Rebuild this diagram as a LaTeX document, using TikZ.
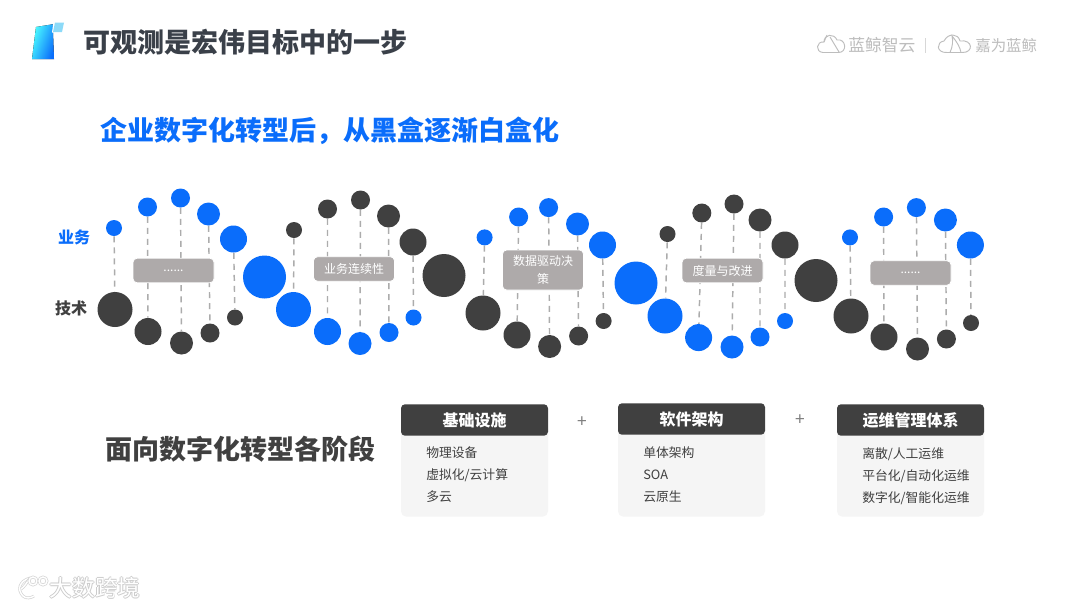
\documentclass[tikz,border=0pt]{standalone}
\usepackage{fontspec}
\setmainfont{Noto Sans CJK SC}
\usepackage{xcolor}
\usetikzlibrary{backgrounds}
\definecolor{bluedna}{HTML}{0A6DFB}
\definecolor{darkdna}{HTML}{404040}
\definecolor{titleink}{HTML}{3A4049}
\definecolor{boxgray}{HTML}{AEAAAA}
\definecolor{bodygray}{HTML}{F5F5F5}
\definecolor{logogray}{HTML}{BDBDBD}
\tikzset{
  bluedot/.style={circle, fill=bluedna, inner sep=0pt},
  darkdot/.style={circle, fill=darkdna, inner sep=0pt},
  sizea/.style={minimum size=12pt},
  sizeb/.style={minimum size=14.25pt},
  sizec/.style={minimum size=17.25pt},
  sized/.style={minimum size=20.25pt},
  sizee/.style={minimum size=26.25pt},
  sizef/.style={minimum size=32.25pt},
  dashline/.style={draw=gray!65, line width=1.1pt, dash pattern=on 4.5pt off 3.8pt},
  labelbox/.style={fill=boxgray, draw=white, line width=0.6pt, rounded corners=3pt, text=white,
    minimum width=60.75pt, inner sep=0pt, align=center, font=\fontsize{9}{13.5}\selectfont},
  headbox/.style={fill=darkdna, rounded corners=3pt, text=white, minimum width=110.25pt,
    minimum height=23.6pt, inner sep=0pt, font=\fontsize{12}{14}\selectfont\bfseries},
  bodybox/.style={fill=bodygray, rounded corners=4pt, minimum width=110.25pt, inner sep=0pt},
  itemtext/.style={anchor=west, inner sep=0pt, text=darkdna, font=\fontsize{9.6}{12}\selectfont},
  bigtext/.style={anchor=west, inner sep=0pt, font=\fontsize{20.25}{24}\selectfont\bfseries},
  logotext/.style={anchor=west, inner sep=0pt, text=logogray},
  logoline/.style={draw=logogray, line width=0.7pt},
  markline/.style={draw=gray!35, double=white, double distance=1.1pt, line width=0.5pt},
  marktext/.style={inner sep=0pt, font=\fontsize{17}{20}\selectfont},
}
\begin{document}
\begin{tikzpicture}[x=0.75pt, y=-0.75pt]
	\useasboundingbox (0,0) rectangle (1080,608);
	\begin{pgfonlayer}{background}
		\fill[white] (0,0) rectangle (1080,608);
	\end{pgfonlayer}

	% head mark and titles
	\fill[left color=cyan!70!white, right color=bluedna, shading angle=70] (36,27) -- (54.5,24) -- (53,32) -- (54,59) -- (32,59) -- cycle;
	\fill[white] (52,32.5) -- (53.5,21.5) -- (65,21.5) -- (63,33) -- cycle;
	\fill[cyan!45!white] (55,22.5) -- (64,22.5) -- (62,32) -- (53,32) -- cycle;
	\node[bigtext, text=titleink] (maintitle) at (83,42) {可观测是宏伟目标中的一步};
	\node[bigtext, text=bluedna] (subtitle) at (100,131) {企业数字化转型后，从黑盒逐渐白盒化};
	\node[bigtext, text=darkdna] (stagetitle) at (105,449) {面向数字化转型各阶段};

	% logos
	\draw[logoline] (823,52.5) .. controls (815,52) and (816,41) .. (824,42) .. controls (824,34) and (834,33) .. (837,40) .. controls (846,38) and (848,53) .. (838,52.5) -- cycle;
	\draw[logoline] (824,42) -- (827,35) (830,37) -- (839,52);
	\node[logotext, font=\fontsize{12.6}{14}\selectfont] (logoone) at (848,45.5) {蓝鲸智云};
	\draw[logoline, draw=logogray!60] (925.5,38) -- (925.5,53);
	\draw[logoline] (947,52.5) .. controls (936,53) and (936,42) .. (944,41) .. controls (948,33) and (958,33) .. (960,41) .. controls (973,39) and (974,53) .. (962,52.5) -- cycle;
	\draw[logoline] (950,52.5) .. controls (953,46) and (953,40) .. (952,36) .. controls (957,42) and (960,47) .. (961,52.5);
	\node[logotext, font=\fontsize{11.6}{14}\selectfont] (logotwo) at (975,45.5) {嘉为蓝鲸};

	% side labels
	\node[inner sep=0pt, text=bluedna, font=\fontsize{12}{14}\selectfont\bfseries] (bizlabel) at (74,237) {业务};
	\node[inner sep=0pt, text=darkdna, font=\fontsize{12}{14}\selectfont\bfseries] (techlabel) at (71,308) {技术};

	% first turn
	\node[bluedot, sizea] (ta1) at (114,228) {};
	\node[bluedot, sizeb] (ta2) at (147.5,207) {};
	\node[bluedot, sizeb] (ta3) at (180.5,198) {};
	\node[bluedot, sizec] (ta4) at (208.5,214) {};
	\node[bluedot, sized] (ta5) at (233.5,239) {};
	\node[bluedot, sizef] (ta6) at (264.5,277) {};
	\node[darkdot, sizee] (ba1) at (115,309.5) {};
	\node[darkdot, sized] (ba2) at (148,331.5) {};
	\node[darkdot, sizec] (ba3) at (181.5,343) {};
	\node[darkdot, sizeb] (ba4) at (210,333) {};
	\node[darkdot, sizea] (ba5) at (235,317.5) {};

	% second turn
	\node[darkdot, sizea] (tb1) at (294,230) {};
	\node[darkdot, sizeb] (tb2) at (327.5,209) {};
	\node[darkdot, sizeb] (tb3) at (360.5,200) {};
	\node[darkdot, sizec] (tb4) at (388.5,216) {};
	\node[darkdot, sized] (tb5) at (413,242) {};
	\node[darkdot, sizef] (tb6) at (444,275.5) {};
	\node[bluedot, sizee] (bb1) at (293.5,309.5) {};
	\node[bluedot, sized] (bb2) at (327.5,331.5) {};
	\node[bluedot, sizec] (bb3) at (360,343.5) {};
	\node[bluedot, sizeb] (bb4) at (389,332.5) {};
	\node[bluedot, sizea] (bb5) at (413.5,317.5) {};

	% third turn
	\node[bluedot, sizea] (tc1) at (484.6,237.4) {};
	\node[bluedot, sizeb] (tc2) at (518.6,217) {};
	\node[bluedot, sizeb] (tc3) at (548.6,207.6) {};
	\node[bluedot, sizec] (tc4) at (577.5,224) {};
	\node[bluedot, sized] (tc5) at (602.5,245) {};
	\node[bluedot, sizef] (tc6) at (636,283) {};
	\node[darkdot, sizee] (bc1) at (483,313) {};
	\node[darkdot, sized] (bc2) at (517,335) {};
	\node[darkdot, sizec] (bc3) at (549.6,346.5) {};
	\node[darkdot, sizeb] (bc4) at (578.6,336) {};
	\node[darkdot, sizea] (bc5) at (603.6,321) {};

	% fourth turn
	\node[darkdot, sizea] (td1) at (667.5,234) {};
	\node[darkdot, sizeb] (td2) at (701.8,213) {};
	\node[darkdot, sizeb] (td3) at (734,204) {};
	\node[darkdot, sizec] (td4) at (760,220) {};
	\node[darkdot, sized] (td5) at (785,245) {};
	\node[darkdot, sizef] (td6) at (816,280.5) {};
	\node[bluedot, sizee] (bd1) at (665,316) {};
	\node[bluedot, sized] (bd2) at (698.6,337.6) {};
	\node[bluedot, sizec] (bd3) at (732,347) {};
	\node[bluedot, sizeb] (bd4) at (760,337) {};
	\node[bluedot, sizea] (bd5) at (785,321) {};

	% fifth turn
	\node[bluedot, sizea] (te1) at (850,237.4) {};
	\node[bluedot, sizeb] (te2) at (883.6,217) {};
	\node[bluedot, sizeb] (te3) at (916.4,207.6) {};
	\node[bluedot, sizec] (te4) at (945.4,220) {};
	\node[bluedot, sized] (te5) at (970.4,245) {};
	\node[darkdot, sizee] (be1) at (851,316) {};
	\node[darkdot, sized] (be2) at (884,337) {};
	\node[darkdot, sizec] (be3) at (917.5,349) {};
	\node[darkdot, sizeb] (be4) at (946.4,339) {};
	\node[darkdot, sizea] (be5) at (971,323) {};

	\begin{pgfonlayer}{background}
		\draw[dashline] (ta1) -- (ba1) (ta2) -- (ba2) (ta3) -- (ba3) (ta4) -- (ba4) (ta5) -- (ba5);
		\draw[dashline] (tb1) -- (bb1) (tb2) -- (bb2) (tb3) -- (bb3) (tb4) -- (bb4) (tb5) -- (bb5);
		\draw[dashline] (tc1) -- (bc1) (tc2) -- (bc2) (tc3) -- (bc3) (tc4) -- (bc4) (tc5) -- (bc5);
		\draw[dashline] (td1) -- (bd1) (td2) -- (bd2) (td3) -- (bd3) (td4) -- (bd4) (td5) -- (bd5);
		\draw[dashline] (te1) -- (be1) (te2) -- (be2) (te3) -- (be3) (te4) -- (be4) (te5) -- (be5);
	\end{pgfonlayer}

	% labels over the rungs
	\node[labelbox, minimum height=18.4pt] (boxone) at (173.5,270.5) {......};
	\node[labelbox, minimum height=18.4pt] (boxtwo) at (354,269) {业务连续性};
	\node[labelbox, minimum height=30pt] (boxthree) at (543,270) {数据驱动决\\策};
	\node[labelbox, minimum height=18.4pt] (boxfour) at (722.5,270.5) {度量与改进};
	\node[labelbox, minimum height=18.4pt] (boxfive) at (910.5,273) {......};

	% stage columns
	\node[bodybox, minimum height=70pt] (bodyone) at (474.5,470) {};
	\node[headbox] (headone) at (474.5,420) {基础设施};
	\node[itemtext] (itema) at (426,453) {物理设备};
	\node[itemtext] (itemb) at (426,475) {虚拟化/云计算};
	\node[itemtext] (itemc) at (426,497) {多云};
	\node[text=gray, inner sep=0pt, font=\fontsize{13}{14}\selectfont] (plusone) at (582,422) {+};
	\node[bodybox, minimum height=70pt] (bodytwo) at (691.5,470) {};
	\node[headbox] (headtwo) at (691.5,419) {软件架构};
	\node[itemtext] (itemd) at (643,453) {单体架构};
	\node[itemtext] (iteme) at (643,475) {SOA};
	\node[itemtext] (itemf) at (643,497) {云原生};
	\node[text=gray, inner sep=0pt, font=\fontsize{13}{14}\selectfont] (plustwo) at (800,420) {+};
	\node[bodybox, minimum height=70pt] (bodythree) at (910.5,470) {};
	\node[headbox] (headthree) at (910.5,420) {运维管理体系};
	\node[itemtext] (itemg) at (862,454) {离散/人工运维};
	\node[itemtext] (itemh) at (862,476) {平台化/自动化运维};
	\node[itemtext] (itemi) at (862,498) {数字化/智能化运维};

	% watermark
	\draw[markline] (13,580) -- (13,597);
	\draw[markline] (30,578) .. controls (19,581) and (17,590) .. (23,596) .. controls (26,599) and (31,598) .. (34,596);
	\draw[markline] (30,578) .. controls (26,584) and (24,587) .. (21,589);
	\draw[markline] (33,581) circle (4);
	\draw[markline] (43,581) circle (4);
	\node[marktext, text=gray!40] (markshadea) at (95.8,588) {大数跨境};
	\node[marktext, text=gray!40] (markshadeb) at (94.2,588) {大数跨境};
	\node[marktext, text=gray!40] (markshadec) at (95,589) {大数跨境};
	\node[marktext, text=gray!40] (markshaded) at (95,587) {大数跨境};
	\node[marktext, text=white] (marktop) at (95,588) {大数跨境};
\end{tikzpicture}
\end{document}
